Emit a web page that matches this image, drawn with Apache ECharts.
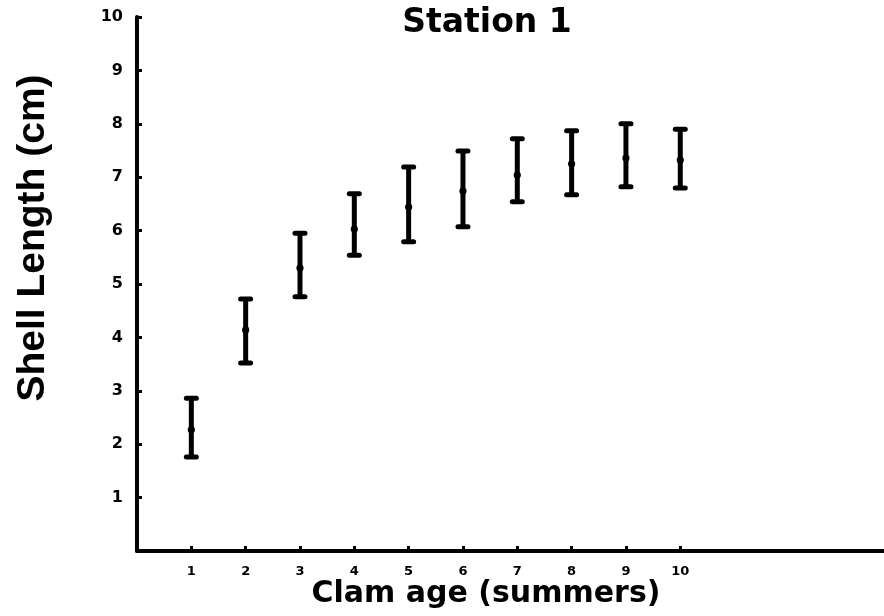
<!DOCTYPE html>
<html>
<head>
<meta charset="utf-8">
<title>Station 1</title>
<script src="https://cdn.jsdelivr.net/npm/echarts@6/dist/echarts.min.js"></script>
<style>
  html, body { margin: 0; padding: 0; background: #ffffff; }
  #chart { width: 884px; height: 616px; }
</style>
</head>
<body>
<div id="chart"></div>
<script>
// Clam shell length by age, Station 1: mean with range bar
var ages = [1, 2, 3, 4, 5, 6, 7, 8, 9, 10];
var meanLength = [2.27, 4.14, 5.30, 6.03, 6.44, 6.74, 7.04, 7.25, 7.36, 7.32];
var upperLength = [2.86, 4.72, 5.95, 6.69, 7.19, 7.49, 7.72, 7.87, 8.00, 7.90];
var lowerLength = [1.76, 3.52, 4.76, 5.54, 5.79, 6.07, 6.54, 6.67, 6.82, 6.80];
var yTicks = [1, 2, 3, 4, 5, 6, 7, 8, 9, 10];

var rows = ages.map(function (a, i) {
  return [a, lowerLength[i], upperLength[i], meanLength[i]];
});

var ink = '#000000';

function renderBar(params, api) {
  var x = api.value(0);
  var lo = api.coord([x, api.value(1)]);
  var hi = api.coord([x, api.value(2)]);
  var mid = api.coord([x, api.value(3)]);
  var capHalf = 5;
  return {
    type: 'group',
    children: [
      { type: 'line', shape: { x1: hi[0], y1: hi[1], x2: lo[0], y2: lo[1] },
        style: { stroke: ink, lineWidth: 5 } },
      { type: 'line', shape: { x1: hi[0] - capHalf, y1: hi[1], x2: hi[0] + capHalf, y2: hi[1] },
        style: { stroke: ink, lineWidth: 5, lineCap: 'round' } },
      { type: 'line', shape: { x1: lo[0] - capHalf, y1: lo[1], x2: lo[0] + capHalf, y2: lo[1] },
        style: { stroke: ink, lineWidth: 5, lineCap: 'round' } },
      { type: 'circle', shape: { cx: mid[0], cy: mid[1], r: 3.6 },
        style: { fill: ink } }
    ]
  };
}

var chart = echarts.init(document.getElementById('chart'), null, { renderer: 'canvas' });
chart.setOption({
  backgroundColor: '#ffffff',
  animation: false,
  title: {
    text: 'Station 1',
    left: 482,
    top: 2,
    textAlign: 'center',
    textStyle: { fontFamily: 'DejaVu Sans', fontWeight: 'bold', fontSize: 33, color: ink }
  },
  grid: { left: 137, right: 0, top: 17, bottom: 65, containLabel: false },
  xAxis: {
    type: 'value',
    min: 0,
    max: 13.75,
    interval: 1,
    splitLine: { show: false },
    axisLine: { show: true, onZero: false, lineStyle: { color: ink, width: 4 } },
    axisTick: { show: true, inside: true, length: 5, customValues: ages,
      lineStyle: { color: ink, width: 3 } },
    axisLabel: { show: true, customValues: ages, margin: 14, color: ink,
      fontFamily: 'DejaVu Sans', fontWeight: 'bold', fontSize: 13 }
  },
  yAxis: {
    type: 'value',
    min: 0,
    max: 10,
    interval: 1,
    splitLine: { show: false },
    axisLine: { show: true, onZero: false, lineStyle: { color: ink, width: 4 } },
    axisTick: { show: true, inside: true, length: 5, customValues: yTicks,
      lineStyle: { color: ink, width: 3 } },
    axisLabel: { show: true, customValues: yTicks, margin: 14, color: ink,
      fontFamily: 'DejaVu Sans', fontWeight: 'bold', fontSize: 16 }
  },
  graphic: [
    {
      type: 'text',
      x: 486, y: 594,
      style: { text: 'Clam age (summers)', fill: ink, align: 'center', verticalAlign: 'middle',
        font: 'bold 30px "DejaVu Sans"' }
    },
    {
      type: 'text',
      x: 33, y: 238,
      rotation: Math.PI / 2,
      style: { text: 'Shell Length (cm)', fill: ink, align: 'center', verticalAlign: 'middle',
        font: 'bold 39px "Liberation Sans"' }
    }
  ],
  series: [{
    type: 'custom',
    renderItem: renderBar,
    encode: { x: 0, y: [1, 2, 3] },
    data: rows
  }]
});
</script>
</body>
</html>
